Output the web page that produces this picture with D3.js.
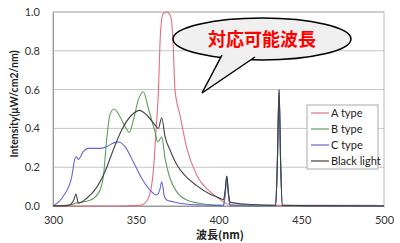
<!DOCTYPE html>
<html>
<head>
<meta charset="utf-8">
<script src="https://cdn.jsdelivr.net/npm/d3@7"></script>
<style>
  body { margin: 0; background: #fff; }
  text { font-family: Lato, "Open Sans", sans-serif; }
</style>
</head>
<body>
<svg></svg>
<script>
// spectra (wavelength nm, intensity)
const a_nm  = [300, 340, 350, 353.6, 357.6, 360.6, 362.2, 363.6, 365, 366.5, 368.7, 371, 372.5, 373.7, 376.7, 380.8, 386.8, 394.9, 400, 405, 410, 430, 495, 500];
const a_val = [0, 0, 0.002, 0.005, 0.04, 0.177, 0.383, 0.572, 0.9, 0.99, 1.0, 0.98, 0.85, 0.6, 0.47, 0.3, 0.16, 0.074, 0.04, 0.012, 0.005, 0.003, 0.003, 0];

const b_nm  = [300, 310, 314, 322.4, 327.4, 330.4, 332.4, 334.4, 336.9, 340.5, 343.5, 346.1, 348.5, 351.5, 354.6, 357.6, 361.6, 363.2, 365.7, 367.7, 370.7, 374.7, 380.8, 390, 400, 403, 404, 405, 406, 407, 420, 434.5, 435.5, 436.6, 437.6, 438.6, 450, 500];
const b_val = [0, 0.005, 0.015, 0.03, 0.065, 0.15, 0.34, 0.47, 0.5, 0.46, 0.41, 0.38, 0.44, 0.546, 0.589, 0.503, 0.383, 0.33, 0.355, 0.246, 0.143, 0.074, 0.031, 0.012, 0.005, 0.004, 0.06, 0.15, 0.06, 0.004, 0.002, 0.002, 0.2, 0.59, 0.2, 0.002, 0.001, 0];

const c_nm  = [300, 306.2, 311.3, 313.3, 314.3, 315.3, 318.3, 321.3, 328.4, 332.4, 337.5, 339.5, 343.5, 348.5, 353.6, 358.6, 362.7, 364.7, 365.7, 367.3, 368.7, 372.5, 380, 390, 403, 404, 405, 406, 407, 420, 434.5, 435.5, 436.6, 437.6, 438.6, 450, 500];
const c_val = [0, 0.05, 0.15, 0.245, 0.254, 0.24, 0.28, 0.297, 0.297, 0.306, 0.328, 0.33, 0.306, 0.228, 0.143, 0.082, 0.057, 0.09, 0.125, 0.05, 0.031, 0.022, 0.01, 0.005, 0.002, 0.06, 0.155, 0.06, 0.002, 0.001, 0.001, 0.2, 0.6, 0.2, 0.001, 0.001, 0];

const k_nm  = [300, 309.3, 312.5, 313.9, 315.3, 320.4, 326.4, 331.4, 336.4, 341.5, 347.6, 352.4, 356.6, 361.6, 363.6, 365.7, 367.7, 370.7, 375, 380, 386.8, 395, 401, 403, 404, 405, 406, 407, 410, 420, 434.5, 435.5, 436.6, 437.6, 438.6, 450, 500];
const k_val = [0, 0.003, 0.03, 0.062, 0.014, 0.04, 0.096, 0.177, 0.289, 0.392, 0.469, 0.493, 0.469, 0.418, 0.4, 0.455, 0.357, 0.289, 0.21, 0.155, 0.105, 0.06, 0.04, 0.032, 0.08, 0.155, 0.07, 0.02, 0.015, 0.008, 0.004, 0.2, 0.6, 0.2, 0.003, 0.002, 0];

const series_names  = ["A type", "B type", "C type", "Black light"];
const series_colors = ["#e07080", "#5c9e5c", "#6464d2", "#404040"];
const x_ticks = [300, 350, 400, 450, 500];
const y_ticks = [0, 0.2, 0.4, 0.6, 0.8, 1.0];

const svg_width = 400;
const svg_height = 243;
const svg = d3.select("svg")
    .attr("width", svg_width)
    .attr("height", svg_height);

const plot_left = 53, plot_right = 384, plot_top = 12, plot_bottom = 206;

const x = d3.scaleLinear().domain([300, 500]).range([plot_left, plot_right]);
const y = d3.scaleLinear().domain([0, 1]).range([plot_bottom, plot_top]);

// grid
svg.append("g")
    .selectAll("line")
    .data(y_ticks)
    .join("line")
    .attr("x1", plot_left)
    .attr("x2", plot_right)
    .attr("y1", d => y(d))
    .attr("y2", d => y(d))
    .attr("stroke", "#c4c4c4")
    .attr("stroke-width", 1);

// frame
svg.append("rect")
    .attr("x", plot_left)
    .attr("y", plot_top)
    .attr("width", plot_right - plot_left)
    .attr("height", plot_bottom - plot_top)
    .attr("fill", "none")
    .attr("stroke", "#b8b8b8");

// axes
const x_axis = svg.append("g")
    .attr("transform", `translate(0,${plot_bottom})`)
    .call(d3.axisBottom(x).tickValues(x_ticks).tickSize(0).tickPadding(10));
const y_axis = svg.append("g")
    .attr("transform", `translate(${plot_left},0)`)
    .call(d3.axisLeft(y).tickValues(y_ticks).tickFormat(d3.format(".1f")).tickSize(0).tickPadding(13));

[x_axis, y_axis].forEach(g => {
    g.select(".domain").attr("stroke", "#999");
    g.selectAll("text")
        .attr("fill", "#333")
        .style("font-size", "11px")
        .style("font-family", "Lato, sans-serif");
});

// lines
const all_nm = [a_nm, b_nm, c_nm, k_nm];
const all_val = [a_val, b_val, c_val, k_val];
const line = d3.line()
    .x(d => x(d[0]))
    .y(d => y(d[1]))
    .curve(d3.curveMonotoneX);

// draw in order: A, B, C, black light on top
for (let i = 0; i < 4; i++) {
    const pts = all_nm[i].map((n, j) => [n, all_val[i][j]]);
    svg.append("path")
        .datum(pts)
        .attr("d", line)
        .attr("fill", "none")
        .attr("stroke", series_colors[i])
        .attr("stroke-width", 1.1);
}

// axis titles
svg.append("text")
    .attr("transform", `translate(18, 104) rotate(-90)`)
    .attr("text-anchor", "middle")
    .style("font-size", "10.5px")
    .style("font-weight", "bold")
    .attr("fill", "#222")
    .text("Intensity(μW/cm2/nm)");

svg.append("text")
    .attr("x", 220)
    .attr("y", 239)
    .attr("text-anchor", "middle")
    .style("font-size", "11px")
    .style("font-weight", "bold")
    .style("font-family", "Noto Sans CJK JP, sans-serif")
    .attr("fill", "#222")
    .text("波長(nm)");

// legend
const legend = svg.append("g");
legend.append("rect")
    .attr("x", 307)
    .attr("y", 105)
    .attr("width", 71)
    .attr("height", 64)
    .attr("fill", "#fff")
    .attr("stroke", "#aaa");

series_names.forEach((name, i) => {
    const ly = 113 + i * 16;
    legend.append("line")
        .attr("x1", 311)
        .attr("x2", 329)
        .attr("y1", ly)
        .attr("y2", ly)
        .attr("stroke", series_colors[i])
        .attr("stroke-width", 1.2);
    legend.append("text")
        .attr("x", 331)
        .attr("y", ly + 4)
        .style("font-size", "11px")
        .attr("fill", "#222")
        .text(name);
});

// speech bubble
const bubble = svg.append("g");
bubble.append("ellipse")
    .attr("cx", 262)
    .attr("cy", 39)
    .attr("rx", 89)
    .attr("ry", 21)
    .attr("fill", "#f0f0f0")
    .attr("stroke", "#000")
    .attr("stroke-width", 1.5);
bubble.append("path")
    .attr("d", "M222,55 L202,93 L255,57")
    .attr("fill", "#f0f0f0")
    .attr("stroke", "#000")
    .attr("stroke-width", 1.5)
    .attr("stroke-linejoin", "miter");
bubble.append("text")
    .attr("x", 262)
    .attr("y", 46)
    .attr("text-anchor", "middle")
    .style("font-size", "18px")
    .style("font-weight", "bold")
    .style("font-family", "Noto Sans CJK JP, sans-serif")
    .attr("fill", "#ff0000")
    .text("対応可能波長");
</script>
</body>
</html>
